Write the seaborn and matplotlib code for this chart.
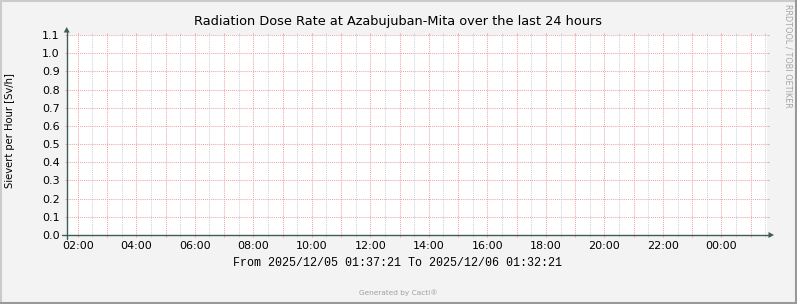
import numpy as np
import pandas as pd
import matplotlib
matplotlib.use("Agg")
import matplotlib.pyplot as plt
import matplotlib.dates as mdates
import matplotlib.ticker as mticker
from matplotlib.lines import Line2D
from matplotlib.patches import Polygon
import seaborn as sns

# ---------------- data ----------------
title = "Radiation Dose Rate at Azabujuban-Mita over the last 24 hours"
y_label = "Sievert per Hour [Sv/h]"
period_start = "2025-12-05 01:37:21"
period_end = "2025-12-06 01:32:21"
period_text = "From 2025/12/05 01:37:21 To 2025/12/06 01:32:21"
footer_text = "Generated by Cacti®"
side_text = "RRDTOOL / TOBI OETIKER"
y_ticks = [0.0, 0.1, 0.2, 0.3, 0.4, 0.5, 0.6, 0.7, 0.8, 0.9, 1.0, 1.1]
y_tick_labels = ["0.0", "0.1", "0.2", "0.3", "0.4", "0.5", "0.6", "0.7", "0.8", "0.9", "1.0", "1.1"]
x_tick_labels = ["02:00", "04:00", "06:00", "08:00", "10:00", "12:00",
                 "14:00", "16:00", "18:00", "20:00", "22:00", "00:00"]
# no data was recorded in the period (nothing drawn in the reference)
dose_times = []
dose_values = []

# ---------------- style ----------------
W, H = 797, 304
BG = "#F3F3F3"
AXIS = "#3F5F56"
MGRID = "#F0A6A6"
GRID = "#D2D2D2"

sns.set_theme(style="white")
plt.rcParams["font.family"] = ["DejaVu Sans"]

fig = plt.figure(figsize=(W / 100, H / 100), dpi=100, facecolor=BG)

def fx(x):
    return x / W

def fy(y):
    return 1 - y / H

x0, x1, ytop, ybot = 66.7, 766.5, 35.0, 235.0
ax = fig.add_axes([fx(x0), fy(ybot), fx(x1) - fx(x0), fy(ytop) - fy(ybot)])
ax.set_facecolor("white")

t0 = pd.Timestamp(period_start)
t1 = pd.Timestamp(period_end)

if len(dose_values):
    df = pd.DataFrame({"time": pd.to_datetime(dose_times), "dose": dose_values})
    sns.lineplot(data=df, x="time", y="dose", ax=ax, color="#00A000", lw=1)

ax.set_xlim(t0, t1)
ax.set_ylim(y_ticks[0], y_ticks[-1])

# x axis: major every hour (red), minor at half hours (grey)
ax.xaxis.set_major_locator(mdates.HourLocator())
ax.xaxis.set_minor_locator(mdates.MinuteLocator(byminute=[30]))

def xfmt(v, pos):
    s = mdates.num2date(v).strftime("%H:%M")
    return s if s in x_tick_labels else ""

ax.xaxis.set_major_formatter(mticker.FuncFormatter(xfmt))
ax.set_yticks(y_ticks)
ax.set_yticklabels(y_tick_labels)

ax.grid(which="major", axis="both", color=MGRID, linestyle=(0, (1, 1)), lw=0.75)
ax.grid(which="minor", axis="x", color=GRID, linestyle=(0, (1, 1)), lw=0.75)

ax.tick_params(axis="x", which="major", direction="out", length=1.6, width=0.75,
               color=MGRID, top=True, bottom=True, labelsize=8, pad=2.8,
               labelcolor="#000000")
ax.tick_params(axis="x", which="minor", direction="out", length=1.6, width=0.75,
               color=GRID, top=True, bottom=True)
ax.tick_params(axis="y", which="major", direction="out", length=1.6, width=0.75,
               color=MGRID, left=True, right=True, labelsize=8, pad=3.5,
               labelcolor="#000000")
for s in ax.spines.values():
    s.set_visible(False)
ax.set_xlabel("")
ax.set_ylabel("")

# axis lines + arrows
fig.add_artist(Line2D([fx(62), fx(769)], [fy(ybot), fy(ybot)], color=AXIS, lw=1.0))
fig.add_artist(Line2D([fx(x0), fx(x0)], [fy(239), fy(31)], color=AXIS, lw=1.0))
fig.add_artist(Polygon([[fx(x0 - 3), fy(32.5)], [fx(x0 + 3), fy(32.5)], [fx(x0), fy(27)]],
                       closed=True, transform=fig.transFigure, color=AXIS, lw=0))
fig.add_artist(Polygon([[fx(768.5), fy(ybot - 3)], [fx(768.5), fy(ybot + 3)], [fx(774), fy(ybot)]],
                       closed=True, transform=fig.transFigure, color=AXIS, lw=0))

# texts
fig.text(fx(398), fy(22), title, ha="center", va="center", fontsize=9.3, color="#000000")
fig.text(fx(10), fy(131), y_label, ha="center", va="center", rotation=90,
         fontsize=7.2, color="#000000")
fig.text(fx(397.5), fy(263), period_text, ha="center", va="center",
         family=["Liberation Mono", "DejaVu Sans Mono"], fontsize=8.35, color="#000000")
fig.text(fx(398.5), fy(293), footer_text, ha="center", va="center",
         fontsize=5.3, color="#A0A0A0")
fig.text(fx(788), fy(56), side_text, ha="center", va="center", rotation=270,
         fontsize=5.9, color="#A6A6A6")

# outer frame (3d look)
fig.add_artist(Line2D([0, 1], [fy(0.5), fy(0.5)], color="#CBCBCB", lw=1.5))
fig.add_artist(Line2D([fx(0.5), fx(0.5)], [0, 1], color="#CBCBCB", lw=1.5))
fig.add_artist(Line2D([0, 1], [fy(303.3), fy(303.3)], color="#999999", lw=1.5))
fig.add_artist(Line2D([fx(796.3), fx(796.3)], [0, 1], color="#999999", lw=1.5))

fig.savefig("out.png", dpi=100, facecolor=BG)
